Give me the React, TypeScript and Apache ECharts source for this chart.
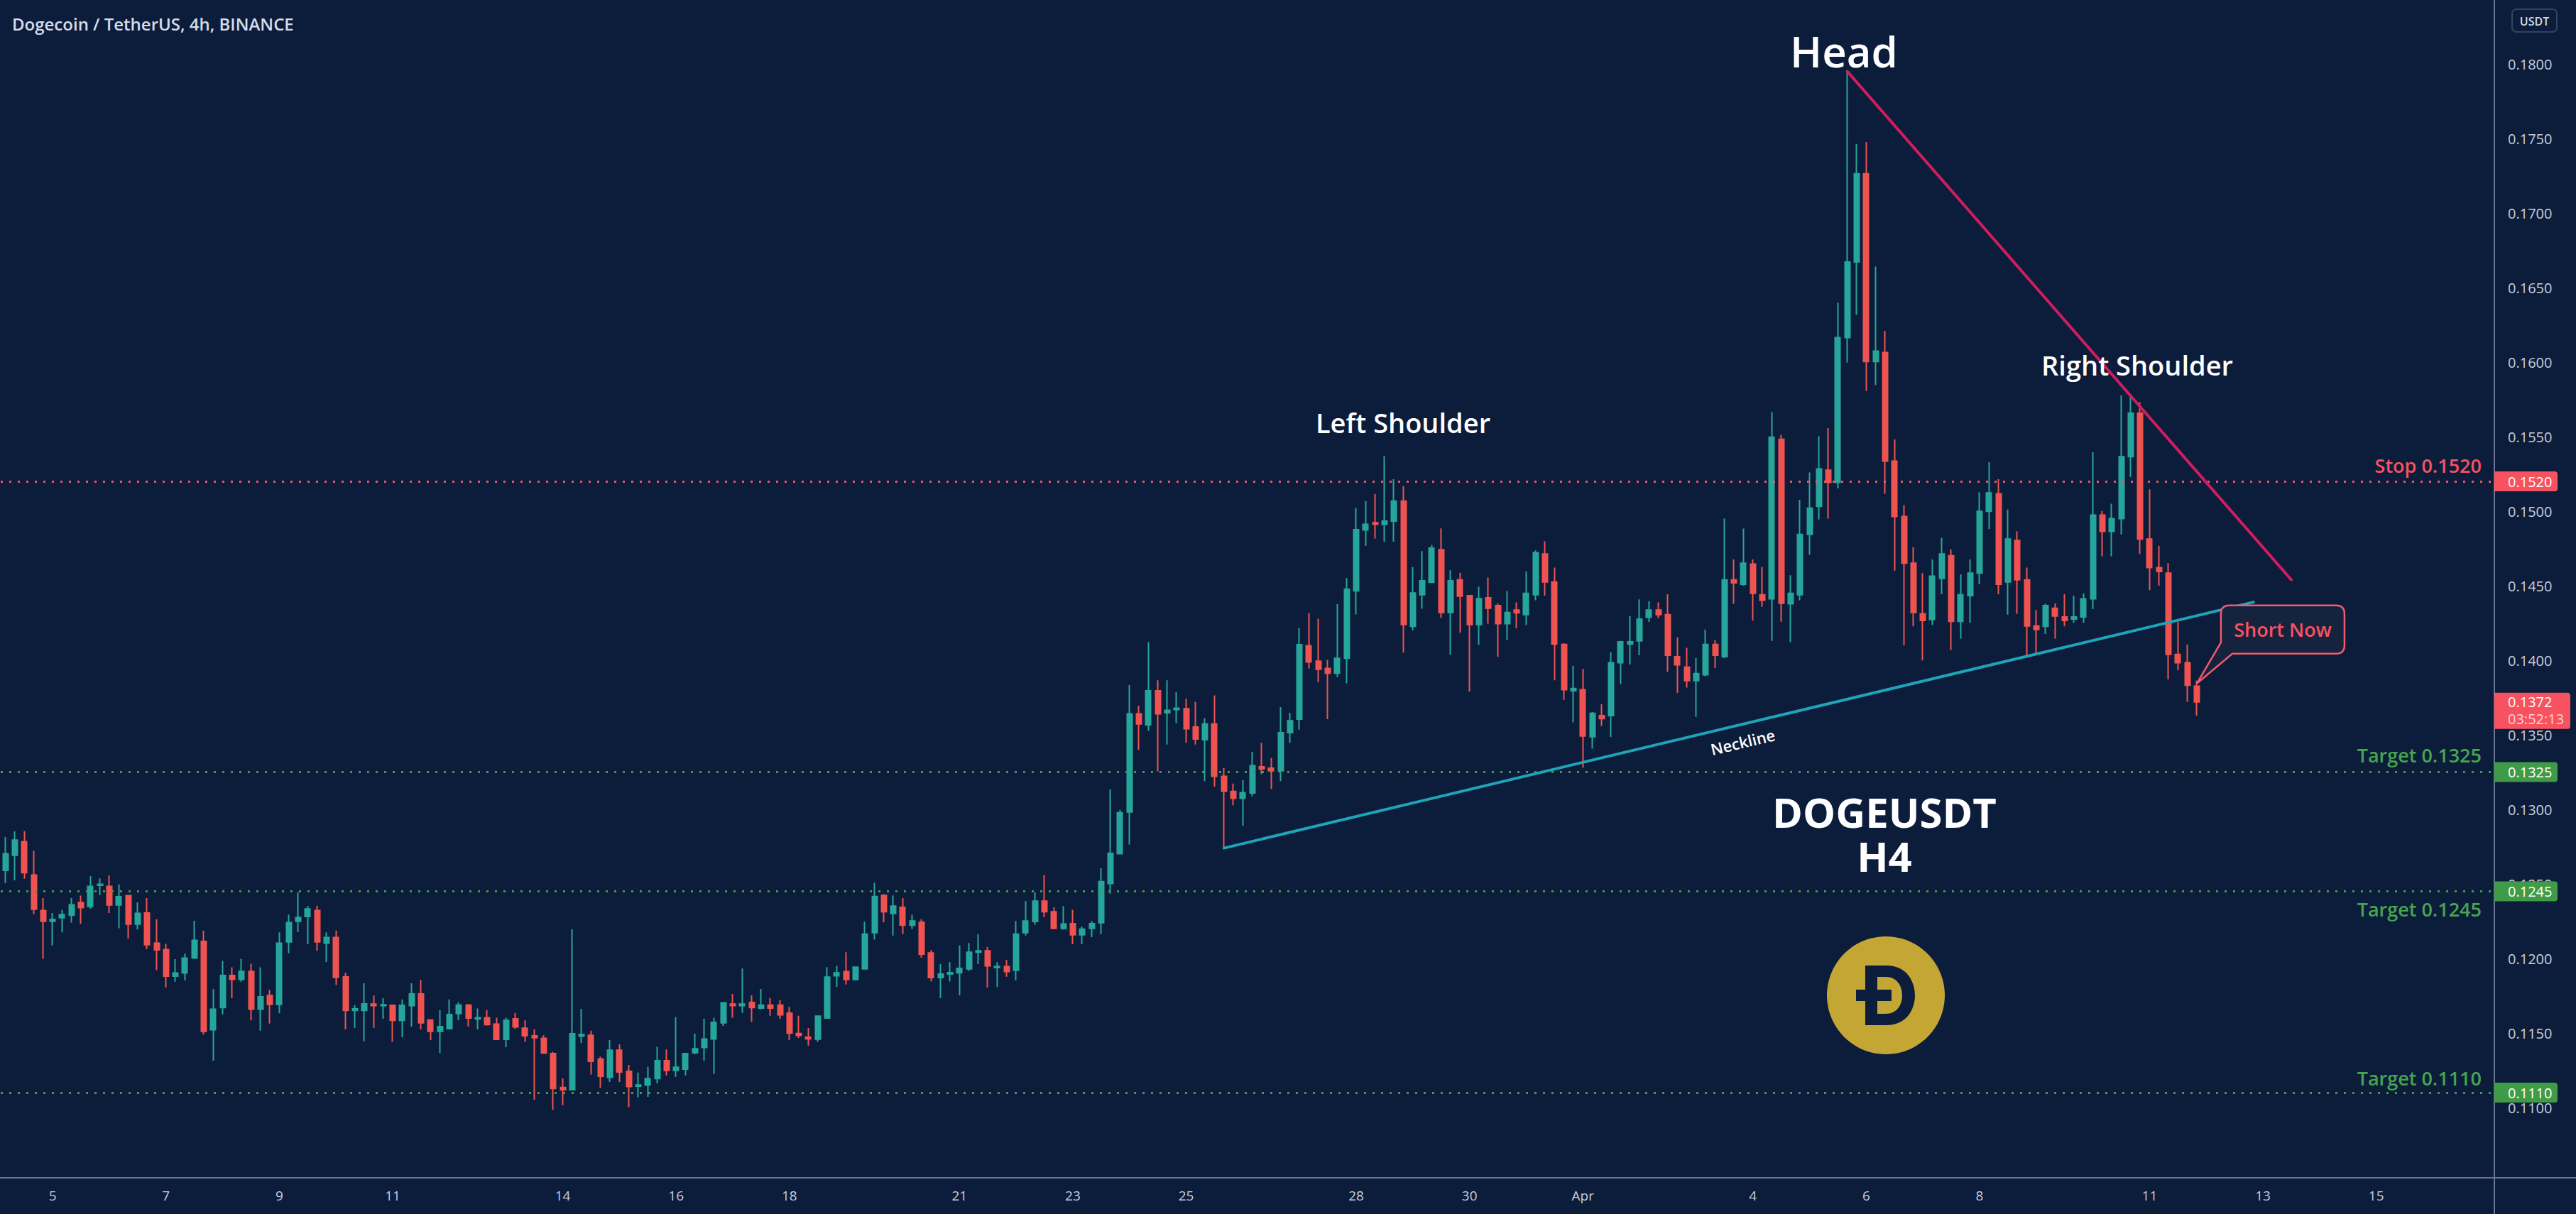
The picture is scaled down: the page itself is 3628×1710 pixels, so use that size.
import React, { useEffect, useRef } from 'react';
import * as echarts from 'echarts';

// ---------- time axis ----------
const START_UTC = Date.UTC(2022, 2, 4, 4, 0); // first 4h candle: 4 Mar 2022 04:00
const SLOT_COUNT = 264; // visible 4h slots, incl. empty future space
const TICK_DATES = ['2022-03-05', '2022-03-07', '2022-03-09', '2022-03-11', '2022-03-14', '2022-03-16', '2022-03-18', '2022-03-21', '2022-03-23', '2022-03-25', '2022-03-28', '2022-03-30', '2022-04-01', '2022-04-04', '2022-04-06', '2022-04-08', '2022-04-11', '2022-04-13', '2022-04-15'];
const TICK_LABELS = ['5', '7', '9', '11', '14', '16', '18', '21', '23', '25', '28', '30', 'Apr', '4', '6', '8', '11', '13', '15'];

// ---------- candles [open, high, low, close] ----------
const candlesA = [
  [0.12590, 0.12814, 0.12505, 0.12703], [0.12692, 0.12852, 0.12524, 0.12794], [0.12784, 0.12854, 0.12535, 0.12575], [0.12560, 0.12722, 0.12297, 0.12330],
  [0.12322, 0.12405, 0.11997, 0.12249], [0.12249, 0.12305, 0.12087, 0.12262], [0.12273, 0.12325, 0.12175, 0.12294], [0.12291, 0.12405, 0.12241, 0.12360],
  [0.12375, 0.12422, 0.12232, 0.12340], [0.12349, 0.12552, 0.12333, 0.12484], [0.12491, 0.12537, 0.12424, 0.12498], [0.12484, 0.12556, 0.12305, 0.12359],
  [0.12359, 0.12497, 0.12203, 0.12414], [0.12422, 0.12422, 0.12133, 0.12230], [0.12230, 0.12376, 0.12194, 0.12303], [0.12305, 0.12405, 0.12062, 0.12092],
  [0.12103, 0.12262, 0.11921, 0.12057], [0.12060, 0.12098, 0.11805, 0.11881], [0.11881, 0.11995, 0.11844, 0.11903], [0.11902, 0.12032, 0.11852, 0.12003],
  [0.12003, 0.12252, 0.12003, 0.12122], [0.12114, 0.12186, 0.11489, 0.11511], [0.11521, 0.11794, 0.11314, 0.11660], [0.11670, 0.11984, 0.11624, 0.11886],
  [0.11886, 0.11941, 0.11733, 0.11860], [0.11860, 0.11997, 0.11844, 0.11913], [0.11913, 0.11964, 0.11584, 0.11659], [0.11659, 0.11941, 0.11516, 0.11743],
  [0.11751, 0.11789, 0.11563, 0.11692], [0.11692, 0.12175, 0.11632, 0.12103], [0.12111, 0.12294, 0.12035, 0.12241], [0.12249, 0.12444, 0.12178, 0.12275],
  [0.12281, 0.12352, 0.12095, 0.12332], [0.12322, 0.12354, 0.12051, 0.12111], [0.12102, 0.12175, 0.11976, 0.12141], [0.12141, 0.12187, 0.11822, 0.11873],
  [0.11876, 0.11905, 0.11524, 0.11651], [0.11651, 0.11686, 0.11535, 0.11662], [0.11651, 0.11833, 0.11444, 0.11695], [0.11694, 0.11751, 0.11535, 0.11683],
];
const candlesB = [
  [0.11683, 0.11733, 0.11595, 0.11689], [0.11686, 0.11686, 0.11440, 0.11584], [0.11584, 0.11725, 0.11471, 0.11686], [0.11683, 0.11833, 0.11543, 0.11762],
  [0.11762, 0.11857, 0.11524, 0.11568], [0.11587, 0.11587, 0.11452, 0.11511], [0.11511, 0.11654, 0.11365, 0.11543], [0.11529, 0.11725, 0.11524, 0.11624],
  [0.11630, 0.11706, 0.11587, 0.11687], [0.11687, 0.11694, 0.11543, 0.11600], [0.11594, 0.11664, 0.11524, 0.11603], [0.11603, 0.11654, 0.11550, 0.11556],
  [0.11560, 0.11603, 0.11452, 0.11457], [0.11457, 0.11603, 0.11405, 0.11584], [0.11595, 0.11635, 0.11527, 0.11540], [0.11532, 0.11584, 0.11441, 0.11481],
  [0.11481, 0.11524, 0.11052, 0.11468], [0.11464, 0.11484, 0.11360, 0.11365], [0.11362, 0.11373, 0.10984, 0.11127], [0.11135, 0.11195, 0.11016, 0.11119],
  [0.11119, 0.12195, 0.11115, 0.11495], [0.11479, 0.11662, 0.11432, 0.11489], [0.11484, 0.11516, 0.11222, 0.11310], [0.11325, 0.11341, 0.11132, 0.11210],
  [0.11202, 0.11452, 0.11171, 0.11384], [0.11384, 0.11424, 0.11171, 0.11238], [0.11243, 0.11286, 0.11003, 0.11140], [0.11143, 0.11235, 0.11068, 0.11151],
  [0.11151, 0.11273, 0.11072, 0.11194], [0.11194, 0.11408, 0.11162, 0.11314], [0.11314, 0.11389, 0.11214, 0.11249], [0.11249, 0.11606, 0.11206, 0.11270],
  [0.11257, 0.11362, 0.11214, 0.11362], [0.11368, 0.11495, 0.11357, 0.11394], [0.11402, 0.11595, 0.11314, 0.11460], [0.11460, 0.11603, 0.11225, 0.11571],
  [0.11568, 0.11703, 0.11548, 0.11703], [0.11694, 0.11762, 0.11603, 0.11683], [0.11683, 0.11932, 0.11635, 0.11694], [0.11705, 0.11753, 0.11575, 0.11670],
];
const candlesC = [
  [0.11667, 0.11795, 0.11658, 0.11687], [0.11687, 0.11733, 0.11616, 0.11667], [0.11687, 0.11722, 0.11595, 0.11621], [0.11633, 0.11675, 0.11453, 0.11499],
  [0.11496, 0.11616, 0.11466, 0.11483], [0.11471, 0.11533, 0.11416, 0.11461], [0.11458, 0.11613, 0.11441, 0.11613], [0.11600, 0.11942, 0.11596, 0.11875],
  [0.11884, 0.11950, 0.11808, 0.11904], [0.11912, 0.12042, 0.11825, 0.11858], [0.11858, 0.11942, 0.11853, 0.11942], [0.11930, 0.12246, 0.11925, 0.12163],
  [0.12173, 0.12507, 0.12126, 0.12415], [0.12423, 0.12431, 0.12243, 0.12313], [0.12301, 0.12423, 0.12154, 0.12351], [0.12343, 0.12405, 0.12163, 0.12223],
  [0.12223, 0.12293, 0.12196, 0.12251], [0.12243, 0.12263, 0.12006, 0.12029], [0.12037, 0.12056, 0.11845, 0.11872], [0.11872, 0.11962, 0.11733, 0.11895],
  [0.11895, 0.11975, 0.11845, 0.11905], [0.11904, 0.12087, 0.11753, 0.11934], [0.11930, 0.12104, 0.11917, 0.12042], [0.12042, 0.12163, 0.11962, 0.12051],
  [0.12051, 0.12076, 0.11805, 0.11950], [0.11939, 0.11975, 0.11808, 0.11947], [0.11945, 0.11989, 0.11878, 0.11912], [0.11920, 0.12251, 0.11853, 0.12163],
  [0.12173, 0.12385, 0.12154, 0.12251], [0.12248, 0.12443, 0.12226, 0.12385], [0.12385, 0.12560, 0.12276, 0.12313], [0.12313, 0.12343, 0.12201, 0.12201],
  [0.12201, 0.12351, 0.12193, 0.12231], [0.12234, 0.12326, 0.12096, 0.12159], [0.12159, 0.12214, 0.12096, 0.12196], [0.12201, 0.12251, 0.12143, 0.12234],
  [0.12239, 0.12605, 0.12163, 0.12515], [0.12502, 0.13133, 0.12435, 0.12705], [0.12702, 0.12995, 0.12700, 0.12978], [0.12982, 0.13833, 0.12765, 0.13641],
];
const candlesD = [
  [0.13641, 0.13694, 0.13399, 0.13573], [0.13567, 0.14122, 0.13526, 0.13796], [0.13796, 0.13866, 0.13254, 0.13641], [0.13648, 0.13866, 0.13435, 0.13665],
  [0.13669, 0.13786, 0.13577, 0.13679], [0.13675, 0.13743, 0.13446, 0.13541], [0.13552, 0.13722, 0.13435, 0.13471], [0.13467, 0.13611, 0.13190, 0.13573],
  [0.13573, 0.13764, 0.13152, 0.13222], [0.13222, 0.13276, 0.12738, 0.13122], [0.13120, 0.13173, 0.13027, 0.13074], [0.13074, 0.13195, 0.12889, 0.13112],
  [0.13110, 0.13386, 0.13088, 0.13293], [0.13286, 0.13446, 0.13237, 0.13271], [0.13276, 0.13344, 0.13137, 0.13259], [0.13259, 0.13686, 0.13190, 0.13514],
  [0.13514, 0.13648, 0.13446, 0.13594], [0.13605, 0.14215, 0.13535, 0.14105], [0.14098, 0.14317, 0.13945, 0.13988], [0.13994, 0.14279, 0.13854, 0.13939],
  [0.13945, 0.14003, 0.13605, 0.13913], [0.13913, 0.14377, 0.13886, 0.14013], [0.14013, 0.14551, 0.13845, 0.14477], [0.14466, 0.15023, 0.14307, 0.14876],
  [0.14874, 0.15068, 0.14768, 0.14912], [0.14923, 0.15114, 0.14817, 0.14912], [0.14912, 0.15369, 0.14796, 0.14934], [0.14934, 0.15214, 0.14796, 0.15068],
  [0.15068, 0.15168, 0.14051, 0.14239], [0.14228, 0.14625, 0.14200, 0.14451], [0.14440, 0.14732, 0.14345, 0.14534], [0.14523, 0.14774, 0.14520, 0.14753],
  [0.14742, 0.14885, 0.14285, 0.14321], [0.14321, 0.14604, 0.14037, 0.14534], [0.14540, 0.14587, 0.14185, 0.14430], [0.14434, 0.14434, 0.13790, 0.14239],
  [0.14239, 0.14494, 0.14104, 0.14413], [0.14419, 0.14555, 0.14245, 0.14349], [0.14367, 0.14382, 0.14024, 0.14245], [0.14245, 0.14464, 0.14136, 0.14321],
];
const candlesE = [
  [0.14337, 0.14388, 0.14215, 0.14318], [0.14306, 0.14595, 0.14236, 0.14449], [0.14440, 0.14737, 0.14403, 0.14722], [0.14713, 0.14798, 0.14434, 0.14525],
  [0.14525, 0.14622, 0.13866, 0.14109], [0.14106, 0.14115, 0.13735, 0.13802], [0.13796, 0.13963, 0.13583, 0.13811], [0.13802, 0.13942, 0.13280, 0.13492],
  [0.13487, 0.13653, 0.13407, 0.13644], [0.13629, 0.13705, 0.13559, 0.13608], [0.13629, 0.14054, 0.13486, 0.13984], [0.13984, 0.14130, 0.13841, 0.14124],
  [0.14109, 0.14297, 0.13972, 0.14124], [0.14130, 0.14409, 0.14033, 0.14276], [0.14288, 0.14397, 0.14257, 0.14337], [0.14337, 0.14388, 0.14282, 0.14306],
  [0.14306, 0.14443, 0.13923, 0.14033], [0.14024, 0.14154, 0.13781, 0.13969], [0.13954, 0.14084, 0.13817, 0.13863], [0.13863, 0.14014, 0.13620, 0.13911],
  [0.13902, 0.14206, 0.13893, 0.14106], [0.14106, 0.14136, 0.13948, 0.14033], [0.14024, 0.14950, 0.14014, 0.14540], [0.14540, 0.14677, 0.14379, 0.14519],
  [0.14510, 0.14883, 0.14500, 0.14652], [0.14646, 0.14677, 0.14267, 0.14449], [0.14440, 0.14625, 0.14358, 0.14403], [0.14412, 0.15664, 0.14130, 0.15497],
  [0.15482, 0.15512, 0.14258, 0.14382], [0.14379, 0.14570, 0.14121, 0.14449], [0.14440, 0.15077, 0.14403, 0.14844], [0.14844, 0.15260, 0.14707, 0.15020],
  [0.15032, 0.15503, 0.14944, 0.15284], [0.15275, 0.15557, 0.14950, 0.15193], [0.15193, 0.16399, 0.15153, 0.16165], [0.16165, 0.17947, 0.15998, 0.16672],
  [0.16672, 0.17464, 0.16317, 0.17264], [0.17264, 0.17477, 0.15806, 0.16004], [0.16004, 0.16641, 0.15846, 0.16074], [0.16065, 0.16210, 0.15117, 0.15336],
];
const candlesF = [
  [0.15336, 0.15481, 0.14601, 0.14965], [0.14965, 0.15041, 0.14100, 0.14652], [0.14652, 0.14759, 0.14227, 0.14321], [0.14312, 0.14585, 0.13999, 0.14267],
  [0.14273, 0.14677, 0.14236, 0.14564], [0.14549, 0.14822, 0.14443, 0.14713], [0.14701, 0.14743, 0.14069, 0.14261], [0.14261, 0.14576, 0.14145, 0.14440],
  [0.14434, 0.14677, 0.14251, 0.14585], [0.14585, 0.15126, 0.14510, 0.14999], [0.14999, 0.15329, 0.14880, 0.15123], [0.15117, 0.15214, 0.14443, 0.14510],
  [0.14525, 0.15011, 0.14306, 0.14813], [0.14804, 0.14865, 0.14312, 0.14540], [0.14540, 0.14622, 0.14033, 0.14230], [0.14230, 0.14337, 0.14045, 0.14206],
  [0.14227, 0.14379, 0.14176, 0.14367], [0.14349, 0.14382, 0.14145, 0.14297], [0.14291, 0.14443, 0.14227, 0.14267], [0.14276, 0.14434, 0.14251, 0.14291],
  [0.14291, 0.14449, 0.14251, 0.14412], [0.14412, 0.15396, 0.14343, 0.14974], [0.14974, 0.15001, 0.14698, 0.14865], [0.14865, 0.15050, 0.14698, 0.14950],
  [0.14950, 0.15776, 0.14844, 0.15366], [0.15366, 0.15776, 0.15229, 0.15657], [0.15657, 0.15733, 0.14713, 0.14813], [0.14813, 0.15147, 0.14470, 0.14622],
  [0.14622, 0.14768, 0.14500, 0.14595], [0.14585, 0.14652, 0.13872, 0.14039], [0.14039, 0.14257, 0.13933, 0.13984], [0.13984, 0.14106, 0.13720, 0.13832],
  [0.13826, 0.13863, 0.13629, 0.13720],
];

// ---------- levels & drawings ----------
const STOP_LEVEL = 0.152;
const TARGET_LEVELS = [0.1325, 0.1245, 0.111];
const LAST_PRICE = 0.1372;
const COUNTDOWN = '03:52:13';
const NECKLINE = [[129, 0.1274], [238, 0.1439]];
const TRENDLINE = [[195, 0.1795], [242, 0.1454]];

// ---------- style ----------
const BG = '#0c1c3b';
const UP = '#26a69a';
const DOWN = '#ef5350';
const RED = '#f7525f';
const GREEN = '#3f9b47';
const GREEN_TXT = '#46a64e';
const AXIS = '#6b7894';
const LABEL = '#c8cedb';
const FONT = '"Open Sans", "Noto Sans", sans-serif';

const D_PATH = 'M -25 -42 L 5 -42 C 33 -42 45 -20 45 0 C 45 20 33 42 5 42 L -25 42 Z M -8 -26 L -8 26 L 4 26 C 20 26 27 13 27 0 C 27 -13 20 -26 4 -26 Z M -38 -8 L 12 -8 L 12 8 L -38 8 Z';
const CALLOUT_PATH = 'M 12 0 L 162 0 Q 174 0 174 12 L 174 56 Q 174 68 162 68 L 16 68 L -34 110 L 0 52 L 0 12 Q 0 0 12 0 Z';
echarts.graphic.registerShape('dogeD', echarts.graphic.extendPath(D_PATH, {}));
echarts.graphic.registerShape('callout', echarts.graphic.extendPath(CALLOUT_PATH, {}));

const pad = (n: number) => (n < 10 ? '0' + n : '' + n);
const categories: string[] = [];
for (let i = 0; i < SLOT_COUNT; i++) {
  const d = new Date(START_UTC + i * 4 * 3600 * 1000);
  categories.push(`${d.getUTCFullYear()}-${pad(d.getUTCMonth() + 1)}-${pad(d.getUTCDate())} ${pad(d.getUTCHours())}:00`);
}
const tickMap = new Map<string, string>();
TICK_DATES.forEach((d, i) => tickMap.set(d + ' 00:00', TICK_LABELS[i]));

const candles = [...candlesA, ...candlesB, ...candlesC, ...candlesD, ...candlesE, ...candlesF];
const candleData = candles.map(([o, h, l, c]) => [o, c, l, h]);

function txt(x: number, y: number, text: string, size: number, color: string, weight: any = 'normal', align = 'center', extra: any = {}) {
  return {
    type: 'text', x, y, z: 120, silent: true, ...extra,
    style: { text, fill: color, fontSize: size, fontWeight: weight, fontFamily: FONT, align, textAlign: align, verticalAlign: 'middle', textVerticalAlign: 'middle', ...(extra.styleExtra || {}) },
  };
}

export default function App() {
  const ref = useRef<HTMLDivElement>(null);
  useEffect(() => {
    if (!ref.current) return;
    const chart = echarts.init(ref.current, null, { renderer: 'svg' });
    const option: any = {
      animation: false,
      backgroundColor: BG,
      grid: { left: 1, right: 115, top: 0, bottom: 45, outerBoundsMode: 'none' },
      xAxis: {
        type: 'category', data: categories, boundaryGap: true,
        axisLine: { show: false }, axisTick: { show: false }, splitLine: { show: false },
        axisLabel: {
          interval: (_i: number, v: string) => tickMap.has(v),
          formatter: (v: string) => tickMap.get(v) || '',
          color: LABEL, fontSize: 19, fontFamily: FONT, margin: 9,
        },
      },
      yAxis: {
        type: 'value', position: 'right', min: 0.105, max: 0.18429, interval: 0.005, scale: true,
        axisLine: { show: false }, axisTick: { show: false }, splitLine: { show: false },
        axisLabel: {
          color: LABEL, fontSize: 20, fontFamily: FONT, margin: 19,
          formatter: (v: number) => {
            const k = v / 0.005;
            if (Math.abs(k - Math.round(k)) > 1e-6 || v < 0.1099 || v > 0.1801) return '';
            return v.toFixed(4);
          },
        },
      },
      series: [{
        type: 'candlestick', data: candleData, barWidth: 7.5,
        itemStyle: { color: UP, color0: DOWN, borderColor: UP, borderColor0: DOWN, borderWidth: 2 },
        markLine: {
          silent: true, symbol: ['none', 'none'], label: { show: false }, precision: 5,
          lineStyle: { type: [3, 9], width: 3 },
          data: [
            { yAxis: STOP_LEVEL, lineStyle: { color: RED, type: [3, 9], width: 3 } },
            ...TARGET_LEVELS.map((t) => ({ yAxis: t, lineStyle: { color: GREEN, type: [3, 9], width: 3 } })),
          ],
        },
      }],
    };
    chart.setOption(option);

    const P = (i: number, v: number) => chart.convertToPixel({ gridIndex: 0 }, [categories[i], v]) as number[];
    const Y = (v: number) => chart.convertToPixel({ yAxisIndex: 0 }, v) as number;
    const axisX = 3513;
    const axisY = 1659;
    const g: any[] = [];

    // axis borders
    g.push({ type: 'line', z: 110, silent: true, shape: { x1: axisX, y1: 0, x2: axisX, y2: 1710 }, style: { stroke: AXIS, lineWidth: 2 } });
    g.push({ type: 'line', z: 110, silent: true, shape: { x1: 0, y1: axisY, x2: 3628, y2: axisY }, style: { stroke: AXIS, lineWidth: 2 } });

    // title + currency box
    g.push(txt(17, 33, 'Dogecoin / TetherUS, 4h, BINANCE', 24, '#d6dcea', 600, 'left'));
    g.push({ type: 'rect', z: 110, silent: true, shape: { x: 3538, y: 13, width: 63, height: 32, r: 6 }, style: { fill: 'transparent', stroke: '#34445f', lineWidth: 2 } });
    g.push(txt(3569.5, 29.5, 'USDT', 16, '#d6dcea', 600));

    // neckline
    const n1 = P(NECKLINE[0][0], NECKLINE[0][1]);
    const n2 = P(NECKLINE[1][0], NECKLINE[1][1]);
    g.push({ type: 'line', z: 105, silent: true, shape: { x1: n1[0], y1: n1[1], x2: n2[0], y2: n2[1] }, style: { stroke: '#1fa3b6', lineWidth: 4, lineCap: 'round' } });
    const theta = Math.atan2(-(n2[1] - n1[1]), n2[0] - n1[0]);
    const tNeck = 0.5;
    const mx = n1[0] + (n2[0] - n1[0]) * tNeck;
    const my = n1[1] + (n2[1] - n1[1]) * tNeck;
    g.push(txt(mx + Math.sin(theta) * 24, my + Math.cos(theta) * 24, 'Neckline', 22, '#ffffff', 600, 'center', { rotation: theta }));

    // descending trend line
    const t1 = P(TRENDLINE[0][0], TRENDLINE[0][1]);
    const t2 = P(TRENDLINE[1][0], TRENDLINE[1][1]);
    g.push({ type: 'line', z: 105, silent: true, shape: { x1: t1[0], y1: t1[1], x2: t2[0], y2: t2[1] }, style: { stroke: '#cf1d5f', lineWidth: 4, lineCap: 'round' } });

    // pattern labels
    g.push(txt(2597, 72, 'Head', 60, '#ffffff', 600));
    g.push(txt(1976, 595, 'Left Shoulder', 38, '#ffffff', 600));
    g.push(txt(3010, 514, 'Right Shoulder', 38, '#ffffff', 600));
    g.push(txt(2654, 1174, 'DOGEUSDT\nH4', 58, '#ffffff', 700, 'center', { styleExtra: { lineHeight: 62 } }));

    // level labels
    g.push(txt(3495, Y(STOP_LEVEL) - 23, 'Stop ' + STOP_LEVEL.toFixed(4), 27, RED, 600, 'right'));
    const tOffsets = [-24, 25, -21];
    TARGET_LEVELS.forEach((t, i) => g.push(txt(3495, Y(t) + tOffsets[i], 'Target ' + t.toFixed(4), 27, GREEN_TXT, 600, 'right')));

    // price badges
    const badge = (v: number, color: string) => {
      const y = Y(v);
      g.push({ type: 'rect', z: 115, silent: true, shape: { x: axisX, y: y - 14, width: 89, height: 28, r: [0, 4, 4, 0] }, style: { fill: color } });
      g.push(txt(3532, y, v.toFixed(4), 20, '#ffffff', 'normal', 'left'));
    };
    badge(STOP_LEVEL, RED);
    TARGET_LEVELS.forEach((t) => badge(t, GREEN));
    const ly = Y(LAST_PRICE);
    g.push({ type: 'rect', z: 115, silent: true, shape: { x: axisX, y: ly - 13, width: 107, height: 51, r: [0, 4, 4, 0] }, style: { fill: RED } });
    g.push(txt(3532, ly, LAST_PRICE.toFixed(4), 20, '#ffffff', 'normal', 'left'));
    g.push(txt(3532, ly + 24, COUNTDOWN, 20, '#fbd3d7', 'normal', 'left'));

    // short-now callout anchored at the last candle's high
    const last = candles.length - 1;
    const tip = P(last, candles[last][1]);
    const bx = tip[0] + 34;
    const by = tip[1] + 4 - 110;
    g.push({ type: 'callout', z: 112, silent: true, x: bx, y: by, style: { fill: '#15233f', stroke: '#f05a6a', lineWidth: 2.5 } });
    g.push(txt(bx + 87, by + 34, 'Short Now', 27, RED, 600));

    // dogecoin logo
    g.push({ type: 'circle', z: 110, silent: true, shape: { cx: 2656, cy: 1402, r: 83 }, style: { fill: '#c3a634' } });
    g.push({ type: 'dogeD', z: 111, silent: true, x: 2652, y: 1402, style: { fill: BG } });

    chart.setOption({ graphic: g });
    return () => chart.dispose();
  }, []);
  return <div ref={ref} style={{ position: 'fixed', left: 0, top: 0, width: 3628, height: 1710 }} />;
}
